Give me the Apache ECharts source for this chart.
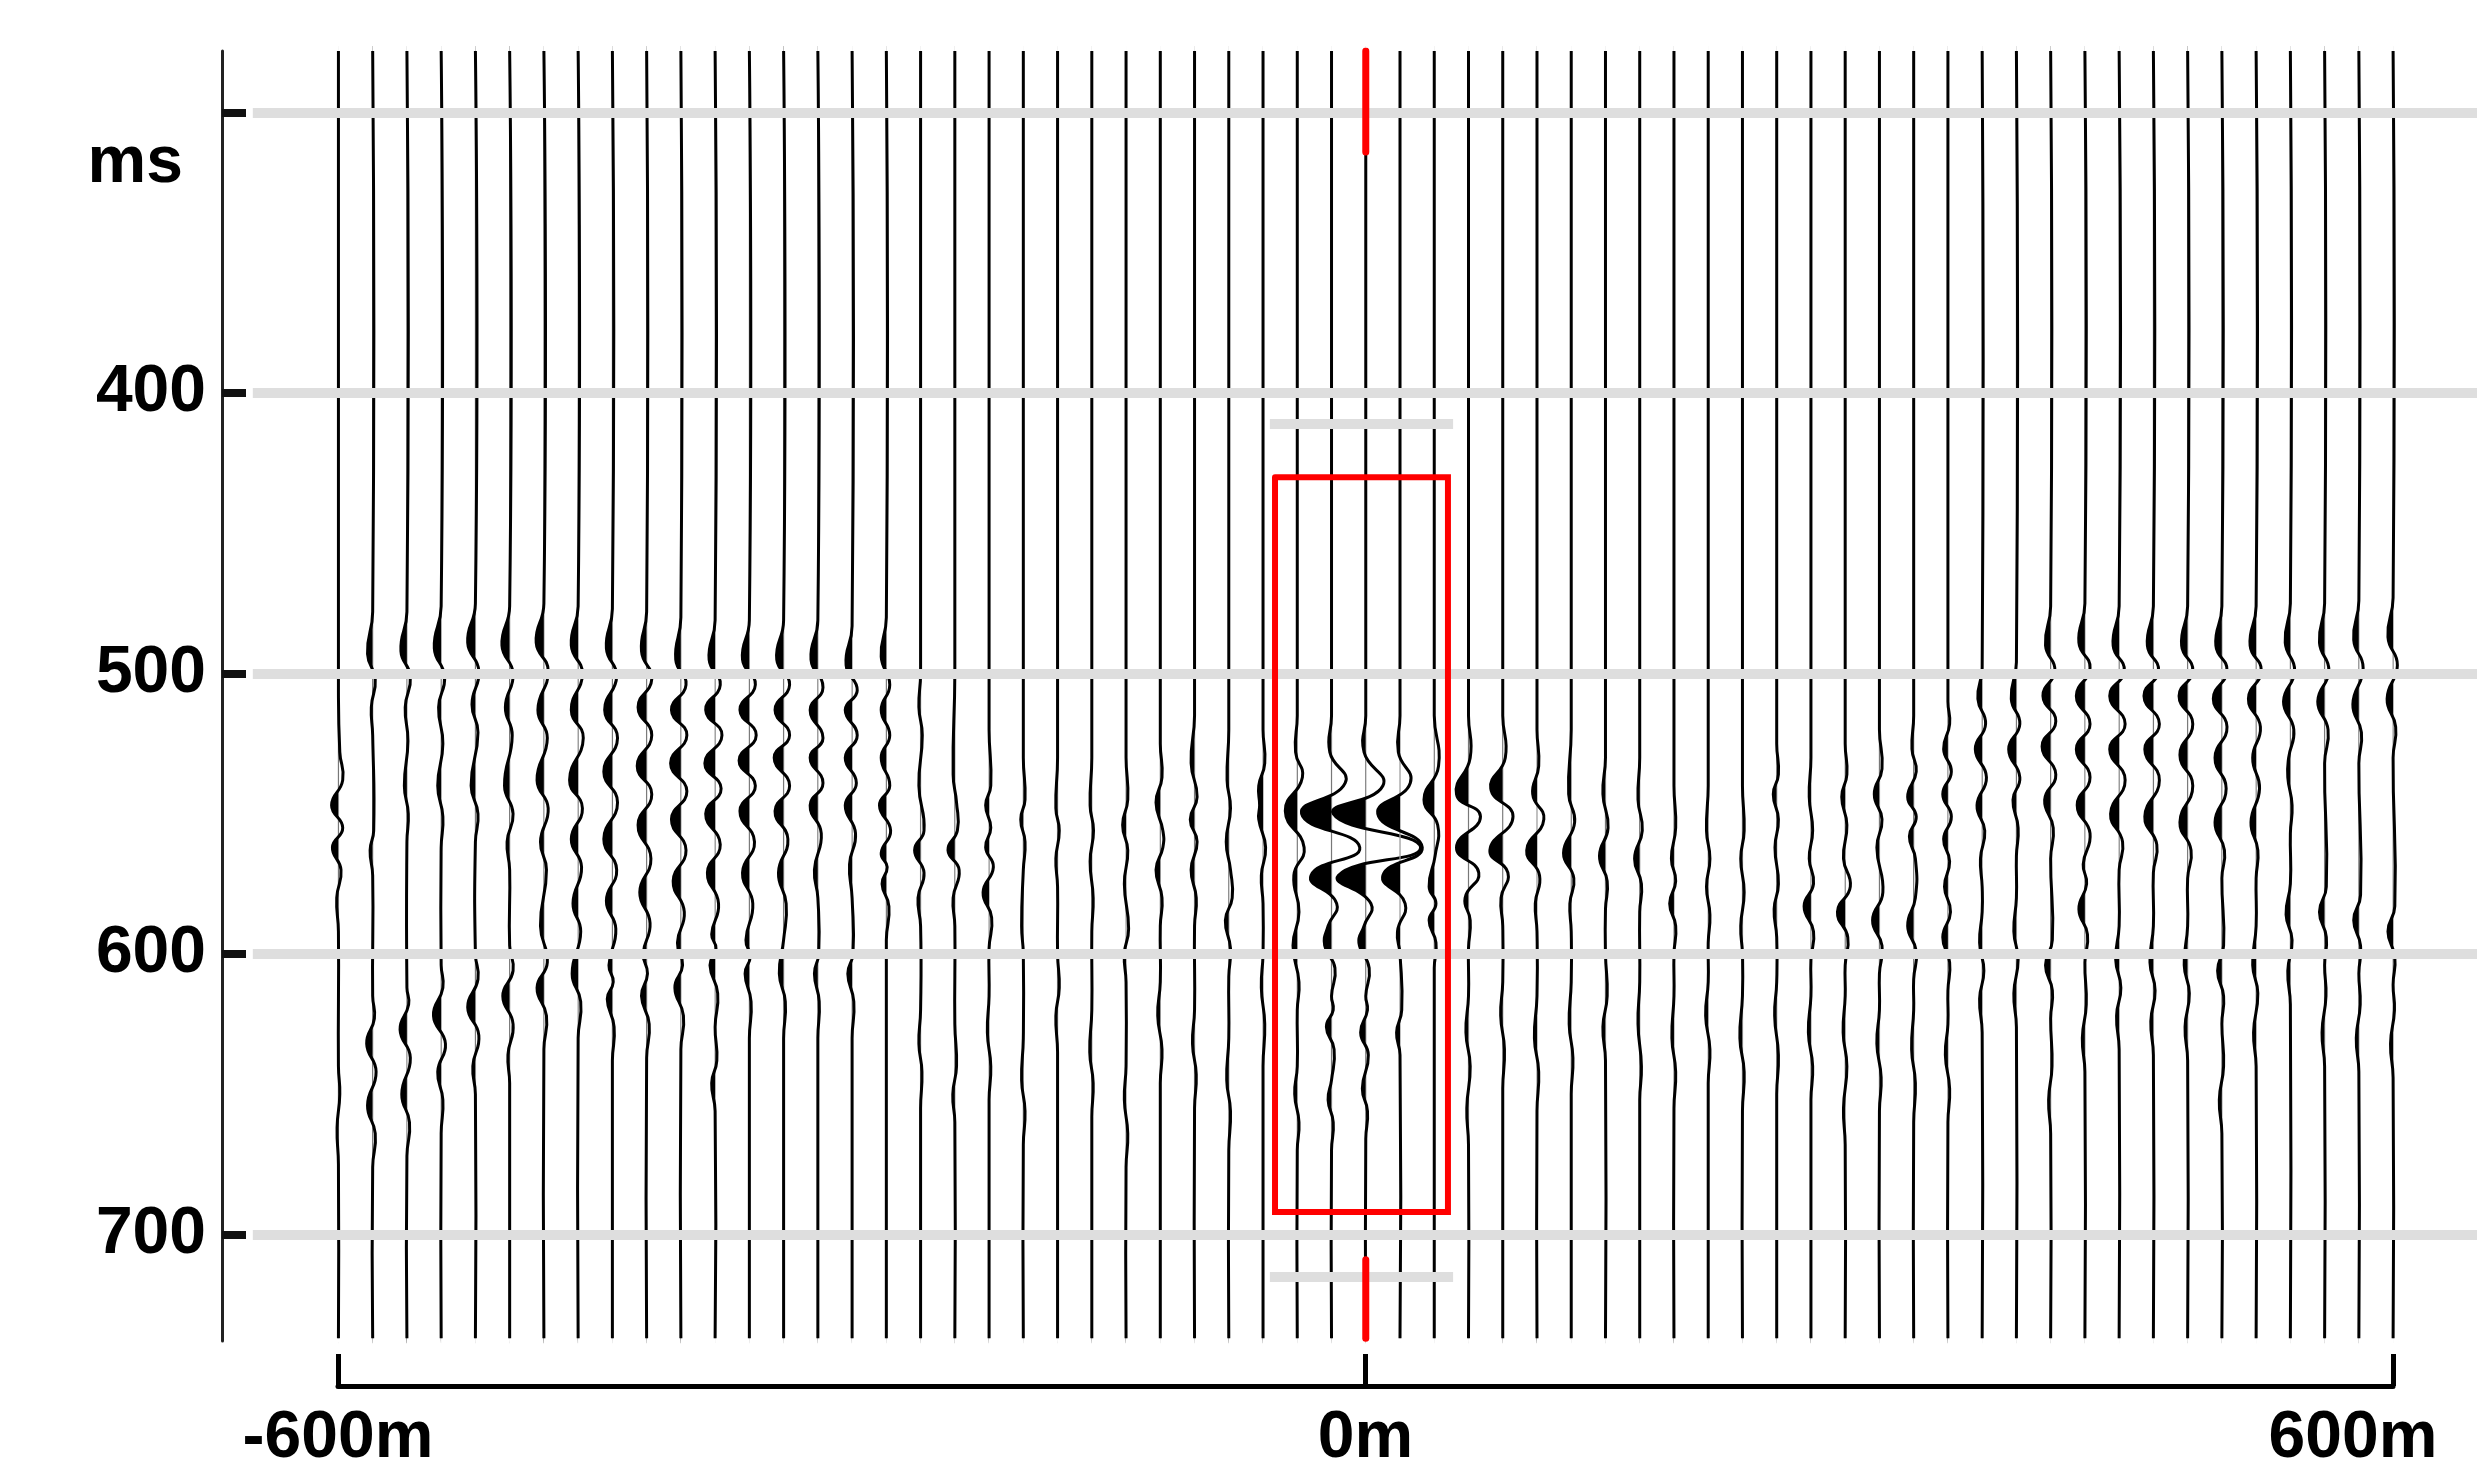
<!DOCTYPE html>
<html>
<head>
<meta charset="utf-8">
<script src="https://cdn.jsdelivr.net/npm/echarts@6/dist/echarts.min.js"></script>
<style>
html,body{margin:0;padding:0;background:#fff;}
#chart{width:2490px;height:1462px;}
</style>
</head>
<body>
<div id="chart"></div>
<script>
// trace positions (m) and time range of every trace (ms)
var traceOffsets = [-600,-580,-560,-540,-520,-500,-480,-460,-440,-420,-400,-380,-360,-340,-320,-300,
	-280,-260,-240,-220,-200,-180,-160,-140,-120,-100,-80,-60,-40,-20,0,20,40,60,80,100,120,140,160,
	180,200,220,240,260,280,300,320,340,360,380,400,420,440,460,480,500,520,540,560,580,600];
var TRACE_START = 278, TRACE_END = 737;

// wiggle extrema per trace: [time ms, deflection m] ; negative = filled lobe (left)
var traces = [
	[[505,0],[528,0.8],[538,2.5],[547,-4],[555,2.5],[562,-3.5],[570,1.5],[580,-1],[592,0],[640,0],[650,0.8],[662,-0.8],[675,0]],
	[[478,0],[493,-3],[502,1.5],[512,-0.8],[522,0],[556,0.6],[563,-1.5],[572,0],[615,0],[623,1],[632,-3.5],[642,2],[654,-3],[664,1.5],[676,0]],
	[[478,0],[492,-3.5],[501,2],[512,-1],[524,0.6],[540,-1.5],[550,0.8],[560,0],[612,0],[618,1],[627,-4],[637,2],[650,-3],[660,1.5],[672,0]],
	[[476,0],[491,-4],[501,2],[512,-1.5],[525,1],[540,-2],[551,1],[562,0],[604,0],[612,1],[622,-4.5],[632,2.5],[642,-2],[652,1],[664,0]],
	[[475,0],[489,-4.5],[499,2],[511,-2],[521,1.5],[540,-2.5],[550,1.5],[560,0],[600,0],[609,1.5],[619,-4.5],[629,2],[640,-1.5],[650,0]],
	[[476,0],[490,-4.5],[500,2],[512,-2.5],[522,1.5],[540,-3],[550,2],[560,-1.5],[570,0],[597,0],[606,2],[615,-4],[625,2],[636,-1],[646,0]],
	[[475,0],[489,-4.5],[499,2.5],[513,-3.5],[523,2],[538,-4],[548,2.5],[560,-2],[570,1.5],[590,-2],[603,2],[612,-4],[622,1.5],[634,0]],
	[[476,0],[490,-4],[500,2.5],[513,-4],[523,3],[538,-5],[548,2.5],[559,-4],[569,2],[582,-3],[592,1.5],[607,-3.5],[617,1.5],[630,0]],
	[[477,0],[491,-3.5],[501,2.5],[513,-4.5],[523,3],[535,-5],[546,3],[559,-5],[570,2.5],[581,-3.5],[591,2],[604,-2],[610,0.5],[616,-3],[626,1],[638,0]],
	[[478,0],[492,-3],[502,3],[512,-5],[522,3],[533,-5.5],[543,3],[554,-5],[566,2.5],[578,-4],[589,2],[600,-2],[607,0.5],[615,-3],[625,1.5],[637,0]],
	[[480,0],[495,-3],[504,3],[513,-5.5],[522,3.5],[532,-6],[542,3.5],[552,-5.5],[563,3],[574,-4.5],[585,2],[596,-2],[604,1],[612,-3.5],[622,1.5],[634,0]],
	[[481,0],[495,-3.5],[504,3],[513,-5.5],[522,4],[532,-6],[541,3.5],[550,-5.5],[561,3],[571,-4.5],[582,2],[593,-2],[598,0.5],[604,-3],[614,1.5],[626,0],[638,1],[646,-2],[656,0]],
	[[481,0],[495,-4],[504,3.5],[513,-5.5],[522,4],[531,-6],[540,3.5],[549,-5.5],[560,3],[571,-4],[582,2],[595,-2],[601,0.5],[607,-2.5],[617,1],[630,0]],
	[[481,0],[495,-4],[504,3.5],[513,-5],[522,3.5],[530,-5.5],[540,3.5],[549,-5],[559,2.5],[571,-3],[582,1.5],[595,0],[607,-2.5],[617,1],[630,0]],
	[[481,0],[495,-4],[505,3],[513,-4.5],[523,3],[530,-4.5],[539,3],[547,-4.5],[557,2],[570,-2],[580,0],[600,0.5],[607,-2],[617,0.8],[630,0]],
	[[483,0],[497,-3.5],[506,3],[513,-4],[522,3],[530,-4],[539,2.5],[547,-4],[557,2],[568,-1.5],[580,0],[600,0.5],[607,-2.5],[617,1],[630,0]],
	[[480,0],[494,-3],[504,2],[513,-3],[522,2],[530,-3],[540,2],[547,-4],[556,2.5],[564,-3],[569,0.5],[575,-2.5],[583,1.5],[595,0]],
	[[500,0],[512,-1],[522,1],[540,-1],[556,2],[563,-3.5],[571,2],[580,-1.5],[590,0],[620,0],[632,-1],[642,0.8],[655,0]],
	[[500,0],[536,-1],[546,1],[556,1.5],[563,-4],[570,2.5],[580,-1],[590,0],[625,0],[640,1],[650,-1.2],[660,0]],
	[[520,0],[540,1],[547,-2],[555,1],[562,-2],[569,2.5],[578,-3.5],[587,1.5],[598,0],[615,0],[628,-1],[640,1],[652,0]],
	[[530,0],[545,1],[552,-1.5],[560,1],[570,0],[590,-1],[600,0],[630,0],[645,-1],[656,1],[668,0]],
	[[530,0],[548,-1],[556,1],[566,-1],[576,0],[600,0],[612,1],[622,-1],[635,0]],
	[[530,0],[547,-1],[556,1],[567,-1],[580,0.8],[592,0],[620,0],[635,-1.2],[646,0.8],[658,0]],
	[[530,0],[545,1],[554,-2],[563,1],[575,-1],[591,1.5],[600,-1],[610,0],[640,0],[652,-1],[664,1],[676,0]],
	[[525,0],[537,1],[546,-2.5],[556,1.5],[562,1.5],[570,-2.5],[580,1],[590,0],[610,0],[622,-1.5],[634,1],[646,0]],
	[[515,0],[532,-2],[544,1.5],[552,-2.5],[560,1.5],[570,-2],[580,1],[590,0],[620,0],[632,-1.2],[643,1],[655,0]],
	[[520,0],[538,-1],[548,1],[560,-1.5],[570,1],[580,2],[588,-2],[598,1],[608,0],[630,0],[645,-1.2],[656,1],[670,0]],
	[[520,0],[532,1],[540,-2.5],[547,-2],[552,-2.5],[562,1.5],[572,-1],[582,0],[600,0],[612,-1],[625,1],[640,0]],
	[[515,0],[528,-1],[537,3],[549,-7],[562,4],[572,-2],[585,1],[597,-2.5],[610,1],[620,0],[640,0],[650,-1.5],[660,1],[670,0]],
	[[515,0],[528,-1],[539,8],[550,-17.5],[562,16.5],[572,-12],[582,3],[590,-2],[597,-4],[605,2],[615,0],[620,1],[626,-3],[634,1.5],[645,0],[652,-2],[660,1],[670,0]],
	[[515,0],[528,-1],[540,10],[550,-19],[562,32],[572,-16],[582,3],[590,-1],[596,-4],[605,2],[615,0],[620,1],[628,-3],[636,1.5],[648,-2],[656,1],[666,0]],
	[[515,0],[528,-1],[539,6],[550,-13],[562,13],[572,-10],[582,3],[592,-1.5],[600,0],[620,1],[628,-2],[636,0]],
	[[515,0],[533,2.5],[545,-6],[554,2],[565,0.5],[576,-3],[582,1],[588,-3],[596,1],[605,0]],
	[[515,0],[530,1],[543,-7],[551,7],[562,-7],[571,6],[580,-2],[588,1],[598,0],[615,0],[628,-1.5],[640,1],[655,-1],[668,0]],
	[[515,0],[530,1.5],[541,-7],[551,6],[563,-7.5],[571,3],[580,-1],[590,0],[610,0],[622,-1.2],[634,1],[648,0]],
	[[520,0],[533,1],[543,-2.5],[552,4],[563,-6],[572,1.5],[582,-1],[592,0],[615,0],[630,-1.5],[642,1],[656,0]],
	[[520,0],[543,-1.5],[553,2],[564,-4.5],[573,1.5],[582,-0.8],[592,0],[610,0],[625,-1.2],[637,1],[650,0]],
	[[530,0],[543,-1.5],[555,1.5],[565,-3.5],[574,1],[584,0],[600,0],[615,1],[626,-1.5],[638,0]],
	[[530,0],[545,-1],[556,1.5],[566,-3],[575,1],[585,0],[610,0],[625,-1],[640,1],[652,0]],
	[[540,0],[555,1],[566,-1.5],[574,1],[582,-2.5],[590,1],[600,0],[615,0],[630,-1.2],[642,1],[655,0]],
	[[540,0],[556,-1],[566,1],[576,-1],[586,1],[596,0],[610,0],[622,-1.5],[634,1],[646,0]],
	[[540,0],[556,1],[566,-1],[578,1],[590,-1],[600,0],[615,0],[630,-1.5],[642,1],[656,0]],
	[[525,0],[536,1],[543,-2],[552,1],[562,-1],[575,1],[584,-1.5],[594,0],[610,0],[622,-1.2],[636,1],[650,0]],
	[[530,0],[544,-1],[556,1],[566,-1],[575,1.5],[583,-4],[592,1.5],[602,0],[615,0],[628,-1.5],[640,1],[652,0]],
	[[525,0],[536,1],[544,-2],[554,1],[566,-1],[576,3],[585,-4.5],[594,1.5],[604,0],[615,0],[628,-1.2],[640,1],[655,-1],[668,0]],
	[[520,0],[534,1.5],[543,-3],[552,1.5],[562,-1.5],[578,2],[588,-4],[597,1.5],[607,0],[620,0],[632,-1.5],[644,1],[656,0]],
	[[515,0],[527,-1],[535,1.5],[544,-3.5],[551,1.5],[558,-2.5],[566,1],[580,1],[590,-3.5],[599,1.5],[609,0],[620,0],[634,-1.2],[646,1],[660,0]],
	[[510,0],[518,1],[527,-2.5],[535,2],[543,-3],[551,2],[559,-2.5],[567,1],[576,-2],[585,1.5],[594,-3],[603,1],[613,0],[625,0],[636,-1.5],[648,1],[660,0]],
	[[498,0],[509,-2.5],[518,2],[527,-4],[537,2.5],[547,-3],[556,1.5],[566,-1],[576,0],[585,0],[596,-1.5],[606,1],[616,-1.5],[628,0]],
	[[496,0],[509,-3],[518,2],[527,-4.5],[537,2],[545,-2],[555,1],[565,0],[580,0],[592,-1.5],[602,1],[614,-1.5],[626,0]],
	[[476,0],[490,-3],[499,2.5],[508,-4.5],[517,3],[526,-5],[536,3],[545,-3.5],[555,1.5],[566,0],[595,1],[604,-3],[613,1],[623,0],[640,0.8],[652,-1.2],[664,0]],
	[[475,0],[489,-3.5],[498,3],[508,-5],[518,3],[527,-5],[537,3],[547,-4.5],[557,3],[568,-1],[575,1],[584,-3.5],[593,1.5],[603,0],[618,0.8],[630,-1.5],[642,0]],
	[[476,0],[490,-3.5],[499,3],[508,-5.5],[518,3.5],[527,-5.5],[538,3.5],[550,-5],[560,2],[570,0],[590,0],[602,-2],[612,1],[622,-1.5],[634,0]],
	[[476,0],[490,-3.5],[499,3],[508,-5.5],[518,3.5],[527,-5],[538,3.5],[551,-5],[561,2],[571,0],[590,0],[603,-2],[613,1],[624,-1.5],[636,0]],
	[[476,0],[490,-3.5],[499,3],[508,-5],[518,3],[529,-4.5],[540,3],[553,-4.5],[563,2],[573,0],[590,0],[604,-2],[614,1],[626,-1.5],[638,0]],
	[[476,0],[490,-3.5],[499,3],[509,-5],[519,3],[530,-4],[541,2.5],[553,-4],[563,1.5],[573,0],[597,1],[606,-2.5],[615,1],[625,0],[640,1],[652,-1.5],[664,0]],
	[[476,0],[490,-3.5],[499,3],[509,-4.5],[519,2.5],[530,-2],[541,2],[553,-3],[563,1],[573,0],[590,0],[604,-2],[614,1],[628,-1.5],[640,0]],
	[[475,0],[489,-3],[499,2.5],[510,-4],[520,2],[530,-1],[537,-1.5],[547,1],[557,0],[575,0],[586,-2.5],[595,1],[606,-1.5],[618,0]],
	[[475,0],[489,-3],[499,2.5],[510,-4],[520,2],[532,0],[576,1],[585,-3],[594,1],[604,0],[615,0.8],[628,-1.5],[640,0]],
	[[474,0],[488,-3],[498,2.5],[511,-3.5],[521,1.5],[532,0],[579,1],[588,-3],[597,1],[607,0],[618,0.8],[630,-1.5],[642,0]],
	[[473,0],[487,-3],[497,2.5],[509,-3.5],[519,1.5],[530,0],[583,1],[592,-3],[601,1],[611,0],[620,0.8],[632,-1.5],[644,0]]
];

var timeTicks = [300, 400, 500, 600, 700];
var redBox = [[-53, 430], [48, 430], [48, 692], [-53, 692], [-53, 430]];
var redMarkTop = [[0, 278], [0, 314]];
var redMarkBottom = [[0, 709], [0, 737]];
var shortBands = [411, 715];   // grey bars beside the box
var shortBandX = [-56, 51];

var FONT = "'Liberation Sans', Arial, sans-serif";

var chart = echarts.init(document.getElementById('chart'));

var bandLines = timeTicks.map(function (t) {
	return [{coord: [-650, t]}, {coord: [649, t]}];
});
shortBands.forEach(function (t) {
	bandLines.push([{coord: [shortBandX[0], t]}, {coord: [shortBandX[1], t]}]);
});

function redSeries(data, w) {
	return {
		type: 'line',
		xAxisIndex: 0, yAxisIndex: 0,
		data: data,
		symbol: 'none',
		z: 6,
		lineStyle: {color: '#ff0000', width: w, cap: 'round', join: 'miter'},
		silent: true
	};
}

var option = {
	animation: false,
	backgroundColor: '#ffffff',
	grid: [
		{left: 222, right: 13, top: 51, height: 1290, outerBoundsMode: 'none'},
		{left: 338, right: 97, top: 1300, height: 86, outerBoundsMode: 'none'}
	],
	xAxis: [{
		gridIndex: 0,
		type: 'value',
		min: -668, max: 649,
		show: false,
		splitLine: {show: false}
	}, {
		gridIndex: 1,
		type: 'value',
		min: -600, max: 600, interval: 600,
		position: 'bottom',
		axisLine: {show: true, onZero: false, lineStyle: {color: '#000', width: 5}},
		axisTick: {show: true, inside: true, length: 32, lineStyle: {color: '#000', width: 5}},
		splitLine: {show: false},
		axisLabel: {
			show: true, margin: 20, showMinLabel: true, showMaxLabel: true,
			color: '#000', fontSize: 66, fontWeight: 'bold', fontFamily: FONT,
			formatter: function (v) {
				return v === 600 ? '{r|600m}' : v + 'm';
			},
			rich: {r: {color: '#000', fontSize: 66, fontWeight: 'bold', fontFamily: FONT, padding: [0, 80, 0, 0]}}
		}
	}],
	yAxis: [{
		gridIndex: 0,
		type: 'value',
		inverse: true,
		min: 278, max: 738,
		axisLine: {show: true, onZero: false, lineStyle: {color: '#222', width: 3}},
		axisTick: {show: true, inside: true, length: 24, customValues: timeTicks, lineStyle: {color: '#111', width: 8}},
		splitLine: {show: false},
		axisLabel: {
			show: true, margin: 16, customValues: timeTicks,
			color: '#000', fontSize: 66, fontWeight: 'bold', fontFamily: FONT,
			formatter: function (v) {
				return v === 300 ? '{u|ms}' : String(v);
			},
			rich: {u: {color: '#000', fontSize: 66, fontWeight: 'bold', fontFamily: FONT, padding: [102, 23, 0, 0]}}
		}
	}, {
		gridIndex: 1,
		type: 'value',
		show: false,
		min: 0, max: 1
	}],
	series: [
		{
			// grey time bands
			type: 'line',
			xAxisIndex: 0, yAxisIndex: 0,
			data: [],
			z: 1,
			silent: true,
			markLine: {
				silent: true,
				symbol: ['none', 'none'],
				label: {show: false},
				lineStyle: {color: '#dedede', width: 10, type: 'solid'},
				data: bandLines
			}
		},
		{
			type: 'custom',
			coordinateSystem: 'cartesian2d',
			xAxisIndex: 0, yAxisIndex: 0,
			data: traceOffsets.map(function (x) { return [x, TRACE_START]; }),
			encode: {x: 0, y: 1},
			clip: false,
			z: 3,
			silent: true,
			renderItem: function (params, api) {
				var i = params.dataIndex;
				var base = api.value(0);
				var rows = [[TRACE_START, 0]].concat(traces[i], [[TRACE_END, 0]]);
				var pts = rows.map(function (r) { return api.coord([base + r[1], r[0]]); });
				var top = api.coord([base, TRACE_START]);
				var bot = api.coord([base, TRACE_END]);
				return {
					type: 'group',
					children: [{
						type: 'line',
						shape: {x1: top[0], y1: top[1], x2: bot[0], y2: bot[1]},
						style: {stroke: '#a0a0a0', lineWidth: 1.3}
					}, {
						type: 'polygon',
						shape: {points: pts, smooth: 0.5},
						style: {fill: '#000'},
						clipPath: {
							type: 'rect',
							shape: {x: top[0] - 150, y: top[1] - 5, width: 150, height: bot[1] - top[1] + 10}
						}
					}, {
						type: 'polyline',
						shape: {points: pts, smooth: 0.5},
						style: {stroke: '#000', lineWidth: 3, fill: 'none'}
					}]
				};
			}
		},
		redSeries(redBox, 6),
		redSeries(redMarkTop, 7),
		redSeries(redMarkBottom, 7)
	]
};

chart.setOption(option);
window.onresize = function () {
	chart.resize();
};
</script>
</body>
</html>
